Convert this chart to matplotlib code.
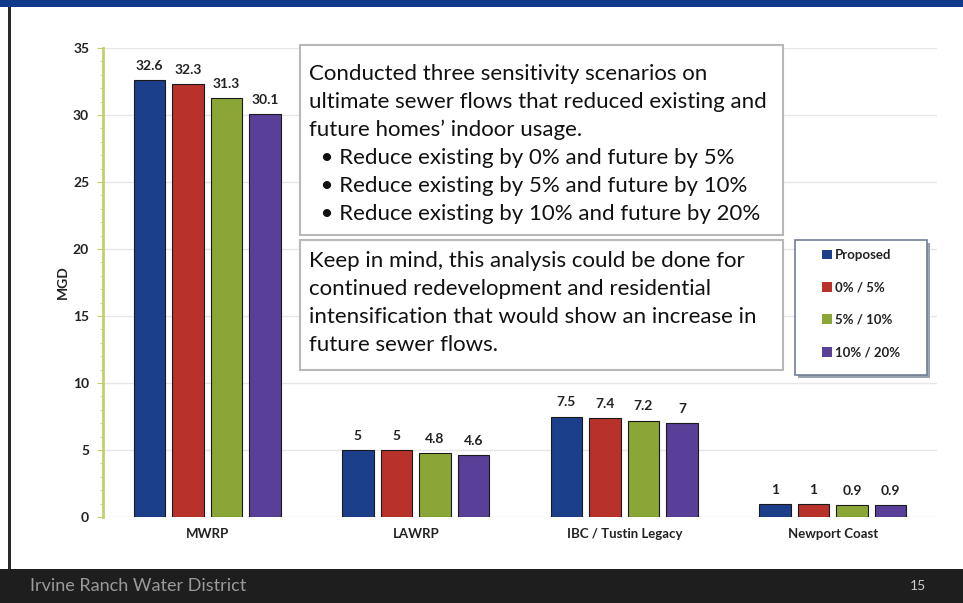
import matplotlib
matplotlib.use("Agg")
import matplotlib.pyplot as plt
from matplotlib.patches import Rectangle, Patch
import numpy as np

plt.rcParams['font.family'] = ['Lato', 'DejaVu Sans']

groups = ["MWRP", "LAWRP", "IBC / Tustin Legacy", "Newport Coast"]
series_names = ["Proposed", "0% / 5%", "5% / 10%", "10% / 20%"]
proposed = [32.6, 5, 7.5, 1]
red_0_5 = [32.3, 5, 7.4, 1]
green_5_10 = [31.3, 4.8, 7.2, 0.9]
purple_10_20 = [30.1, 4.6, 7, 0.9]
value_labels = [
    ["32.6", "5", "7.5", "1"],
    ["32.3", "5", "7.4", "1"],
    ["31.3", "4.8", "7.2", "0.9"],
    ["30.1", "4.6", "7", "0.9"],
]
colors = ["#1c3f8c", "#b8312a", "#8aa636", "#5a3f99"]

box1_lines = [
    "Conducted three sensitivity scenarios on",
    "ultimate sewer flows that reduced existing and",
    "future homes\u2019 indoor usage.",
    "  \u2022 Reduce existing by 0% and future by 5%",
    "  \u2022 Reduce existing by 5% and future by 10%",
    "  \u2022 Reduce existing by 10% and future by 20%",
]
box2_lines = [
    "Keep in mind, this analysis could be done for",
    "continued redevelopment and residential",
    "intensification that would show an increase in",
    "future sewer flows.",
]

W, H = 963, 603
fig = plt.figure(figsize=(W / 100, H / 100), dpi=100)
fig.patch.set_facecolor("white")

def fx(px):
    return px / W

def fy(py):
    return 1 - py / H

ax = fig.add_axes([fx(103), fy(517), fx(937) - fx(103), fy(48) - fy(517)])
x = np.arange(len(groups))
step = 0.185
width = 0.15
all_series = [proposed, red_0_5, green_5_10, purple_10_20]
for i, (vals, c) in enumerate(zip(all_series, colors)):
    pos = x + (i - 1.5) * step
    ax.bar(pos, vals, width, color=c, edgecolor="#1a1a1a", linewidth=0.8,
           zorder=3, label=series_names[i])
    for p, v, t in zip(pos, vals, value_labels[i]):
        ax.text(p, v + 0.6, t, ha="center", va="bottom", fontsize=10,
                fontweight="bold", color="#222222", zorder=4)

ax.set_xlim(-0.5, 3.5)
ax.set_ylim(0, 35)
ax.set_yticks(np.arange(0, 36, 5))
ax.set_yticks(np.arange(0, 36, 1), minor=True)
ax.set_xticks(x)
ax.set_xticklabels(groups, fontsize=9.5, fontweight="bold", color="#222222")
ax.tick_params(axis="x", length=0, pad=8)
ax.tick_params(axis="y", which="major", labelsize=10, length=4,
               color="#c5cf6a", pad=6, labelcolor="#222222")
for lbl in ax.get_yticklabels():
    lbl.set_fontweight("bold")
ax.tick_params(axis="y", which="minor", length=2, color="#c5cf6a")
ax.set_ylabel("MGD", fontsize=10, fontweight="bold", color="#222222", labelpad=3)
ax.grid(axis="y", color="#e6e6e6", linewidth=1, zorder=0)
for s in ["top", "right", "bottom"]:
    ax.spines[s].set_visible(False)
ax.spines["left"].set_color("#c5cf6a")
ax.spines["left"].set_linewidth(2)

# text boxes
def text_box(x0, y0, x1, y1, lines, top_pad):
    fig.add_artist(Rectangle((fx(x0), fy(y1)), fx(x1) - fx(x0), fy(y0) - fy(y1),
                             transform=fig.transFigure, facecolor="white",
                             edgecolor="#b8b8b8", linewidth=1.5, zorder=5))
    for k, line in enumerate(lines):
        fig.text(fx(x0 + 9), fy(y0 + top_pad + 28 * k), line, fontsize=16,
                 color="#111111", va="center", ha="left", zorder=6)

text_box(300, 45, 783, 235, box1_lines, 29)
text_box(300, 240, 783, 370, box2_lines, 21)

# legend: frame drawn as a shadowed box, entries from the library legend
fig.add_artist(Rectangle((fx(798), fy(378)), fx(132), fy(240) - fy(375),
                         transform=fig.transFigure, facecolor="#9aa4b0",
                         edgecolor="none", zorder=5))
fig.add_artist(Rectangle((fx(795), fy(375)), fx(132), fy(240) - fy(375),
                         transform=fig.transFigure, facecolor="white",
                         edgecolor="#6f7f94", linewidth=1.2, zorder=6))
handles = [Patch(facecolor=c, edgecolor="none") for c in colors]
leg = fig.legend(handles, series_names, loc="upper left",
                 bbox_to_anchor=(fx(822), fy(249)), bbox_transform=fig.transFigure,
                 fontsize=9.5, frameon=False,
                 handlelength=0.75, handleheight=0.75, handletextpad=0.25,
                 labelspacing=1.55, borderpad=0, borderaxespad=0)
leg.set_zorder(7)
for t in leg.get_texts():
    t.set_fontweight("bold")
    t.set_color("#222222")

# slide decorations
fig.add_artist(Rectangle((0, fy(7)), 1, fy(0) - fy(7), transform=fig.transFigure,
                         facecolor="#123a8a", edgecolor="none"))
fig.add_artist(Rectangle((fx(8), fy(569)), fx(3), fy(7) - fy(569),
                         transform=fig.transFigure, facecolor="#2a2a2a", edgecolor="none"))
fig.add_artist(Rectangle((0, 0), 1, fy(569), transform=fig.transFigure,
                         facecolor="#1e1e1e", edgecolor="none"))
fig.text(fx(30), fy(586), "Irvine Ranch Water District", fontsize=13,
         color="#9a9a9a", va="center", ha="left")
fig.text(fx(918), fy(586), "15", fontsize=10, color="#cccccc",
         va="center", ha="center")

fig.savefig("out.png", dpi=100)
